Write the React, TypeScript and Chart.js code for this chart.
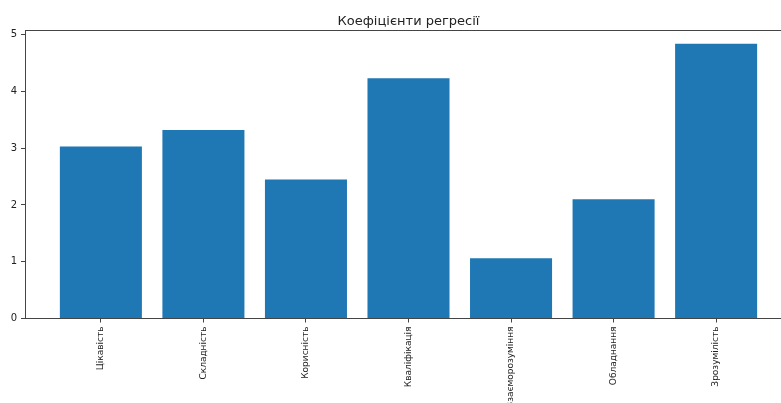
import React, { useEffect, useRef } from "react";
import { Chart, registerables } from "chart.js";

Chart.register(...registerables);

const categories = [
  "Цікавість",
  "Складність",
  "Корисність",
  "Кваліфікація",
  "Взаєморозуміння",
  "Обладнання",
  "Зрозумілість",
];
const coefficients = [3.03, 3.32, 2.45, 4.23, 1.06, 2.1, 4.84];
const yTicks = [0, 1, 2, 3, 4, 5];
const titleText = "Коефіцієнти регресії";

const FONT = "'DejaVu Sans', sans-serif";
const SPINE = "#444";

export default function App() {
  const ref = useRef<HTMLCanvasElement | null>(null);

  useEffect(() => {
    document.body.style.margin = "0";
    const canvas = ref.current;
    if (!canvas) return;

    const n = categories.length;
    const xMin = -0.4 - 0.05 * (n - 1 + 0.8);
    const xMax = n - 1 + 0.4 + 0.05 * (n - 1 + 0.8);
    const yMax = Math.max(...coefficients) * 1.05;

    const decorations = {
      id: "decorations",
      afterDatasetsDraw(chart: any) {
        const { ctx, chartArea } = chart;
        ctx.save();
        ctx.strokeStyle = SPINE;
        ctx.lineWidth = 1;
        ctx.beginPath();
        ctx.moveTo(Math.round(chartArea.left) + 0.5, Math.round(chartArea.top) + 0.5);
        ctx.lineTo(Math.round(chartArea.right) + 0.5, Math.round(chartArea.top) + 0.5);
        ctx.lineTo(Math.round(chartArea.right) + 0.5, Math.round(chartArea.bottom) + 0.5);
        ctx.stroke();
        ctx.fillStyle = "#222";
        ctx.font = `13px ${FONT}`;
        ctx.textAlign = "center";
        ctx.textBaseline = "alphabetic";
        ctx.fillText(titleText, (chartArea.left + chartArea.right) / 2, chartArea.top - 5);
        ctx.restore();
      },
    };

    const chart = new Chart(canvas, {
      type: "bar",
      data: {
        datasets: [
          {
            data: coefficients.map((v, i) => ({ x: i, y: v })),
            backgroundColor: "#1f77b4",
            borderWidth: 0,
            barPercentage: 0.8,
            categoryPercentage: 1,
          },
        ],
      },
      options: {
        responsive: false,
        animation: false,
        devicePixelRatio: 1,
        layout: { padding: { left: 0, right: 8, top: 30, bottom: 0 } },
        plugins: {
          legend: { display: false },
          tooltip: { enabled: false },
          title: { display: false },
        },
        scales: {
          x: {
            type: "linear",
            offset: false,
            min: xMin,
            max: xMax,
            afterBuildTicks(scale: any) {
              scale.ticks = categories.map((_, i) => ({ value: i }));
            },
            afterFit(scale: any) {
              scale.height = 440 - 318.5;
            },
            grid: {
              display: true,
              offset: false,
              drawOnChartArea: false,
              drawTicks: true,
              tickLength: 4,
              color: SPINE,
            },
            border: { display: true, color: SPINE },
            ticks: {
              autoSkip: false,
              minRotation: 90,
              maxRotation: 90,
              padding: 4,
              color: "#222",
              font: { family: FONT, size: 9 },
              callback: (v: any) => categories[Math.round(Number(v))] ?? "",
            },
          },
          y: {
            type: "linear",
            min: 0,
            max: yMax,
            afterBuildTicks(scale: any) {
              scale.ticks = yTicks.map((v) => ({ value: v }));
            },
            afterFit(scale: any) {
              scale.width = 25;
            },
            grid: {
              display: true,
              drawOnChartArea: false,
              drawTicks: true,
              tickLength: 4,
              color: SPINE,
            },
            border: { display: true, color: SPINE },
            ticks: {
              padding: 4,
              color: "#222",
              font: { family: FONT, size: 10 },
            },
          },
        },
      },
      plugins: [decorations],
    } as any);

    return () => chart.destroy();
  }, []);

  return (
    <div
      style={{
        position: "fixed",
        left: 0,
        top: 0,
        width: 781,
        height: 403,
        overflow: "hidden",
        background: "#fff",
      }}
    >
      <canvas ref={ref} width={800} height={440} style={{ width: 800, height: 440, display: "block" }} />
    </div>
  );
}
